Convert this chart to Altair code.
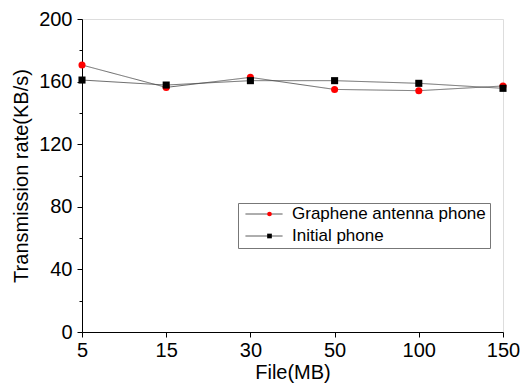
import altair as alt
import pandas as pd

files = ["5", "15", "30", "50", "100", "150"]
graphene = [170.6, 156.3, 162.7, 155.0, 154.2, 157.2]
initial = [161.0, 157.8, 160.6, 160.6, 158.9, 155.7]
series_names = ["Graphene antenna phone", "Initial phone"]
series_colors = ["#ff0000", "#000000"]
series_shapes = ["circle", "square"]

rows = []
for name, vals in zip(series_names, [graphene, initial]):
    for f, v in zip(files, vals):
        rows.append({"file": f, "rate": v, "series": name, "series_l": name})
df = pd.DataFrame(rows)

FONT = "Liberation Sans"
LX, LY = 156, 184
LFS = 17
CLIP = 14
RPAD = 5
PAD = 4

x = alt.X("file:N", sort=files, scale=alt.Scale(type="point", padding=0),
          axis=alt.Axis(title="File(MB)", labelAngle=0, labelFontSize=20, titleFontSize=20,
                        titleFontWeight="normal", labelColor="black", titleColor="black",
                        tickColor="black", domainColor="black", tickSize=5, labelPadding=3,
                        titlePadding=2, grid=False, labelFont=FONT, titleFont=FONT))
yscale = alt.Scale(domain=[0, 200], nice=False)
y = alt.Y("rate:Q", scale=yscale,
          axis=alt.Axis(title="Transmission rate(KB/s)", values=[0, 40, 80, 120, 160, 200],
                        labelFontSize=20, titleFontSize=20, titleFontWeight="normal",
                        labelColor="black", titleColor="black", tickColor="black",
                        domainColor="black", tickSize=5, labelPadding=5, titlePadding=7,
                        grid=False, labelFont=FONT, titleFont=FONT))

lines = alt.Chart(df).mark_line(color="#444444", strokeWidth=0.8).encode(
    x=x, y=y,
    strokeDash=alt.StrokeDash("series_l:N", sort=series_names,
                              scale=alt.Scale(range=[[1, 0], [1, 0]]),
                              legend=alt.Legend(title=None, orient="none", legendX=LX, legendY=LY,
                                                symbolType="stroke", symbolSize=1369,
                                                symbolStrokeColor="#444444", symbolStrokeWidth=1,
                                                symbolOffset=3, labelOffset=9, clipHeight=CLIP,
                                                labelFontSize=LFS, labelFont=FONT, labelColor="black",
                                                labelLimit=400,
                                                strokeColor="#777777", padding=PAD, rowPadding=RPAD)),
)


def point_layer(idx):
    name = series_names[idx]
    leg = alt.Legend(title=None, orient="none", legendX=LX, legendY=LY + idx * (LFS + RPAD),
                     symbolSize=22, labelExpr="''", padding=PAD, rowPadding=RPAD,
                     symbolOffset=19, labelFontSize=LFS, clipHeight=CLIP, symbolOpacity=1,
                     symbolStrokeWidth=0)
    return alt.Chart(df).transform_filter(alt.datum.series == name).mark_point(
        filled=True, opacity=1, shape=series_shapes[idx], size=50
    ).encode(
        x=x, y=alt.Y("rate:Q", scale=yscale, axis=None),
        fill=alt.Fill("series:N", scale=alt.Scale(range=[series_colors[idx]]), legend=leg),
    )


minor = alt.Chart(df).mark_point(opacity=0).encode(
    x=x,
    y=alt.Y("rate:Q", scale=yscale,
            axis=alt.Axis(title=None, orient="left", values=[20, 60, 100, 140, 180], labels=False,
                          tickSize=3, tickColor="black", domain=False, grid=False)),
)

chart = alt.layer(lines, point_layer(0), point_layer(1), minor).resolve_axis(
    y="independent"
).resolve_scale(y="shared", fill="independent").properties(
    width=421, height=313,
    autosize=alt.AutoSizeParams(type="none"),
    padding={"left": 74, "top": 11, "right": 17, "bottom": 51},
).configure_view(stroke="black", strokeWidth=1).configure(background="white")

chart.save("out.html", embed_options={"renderer": "svg", "actions": False})
